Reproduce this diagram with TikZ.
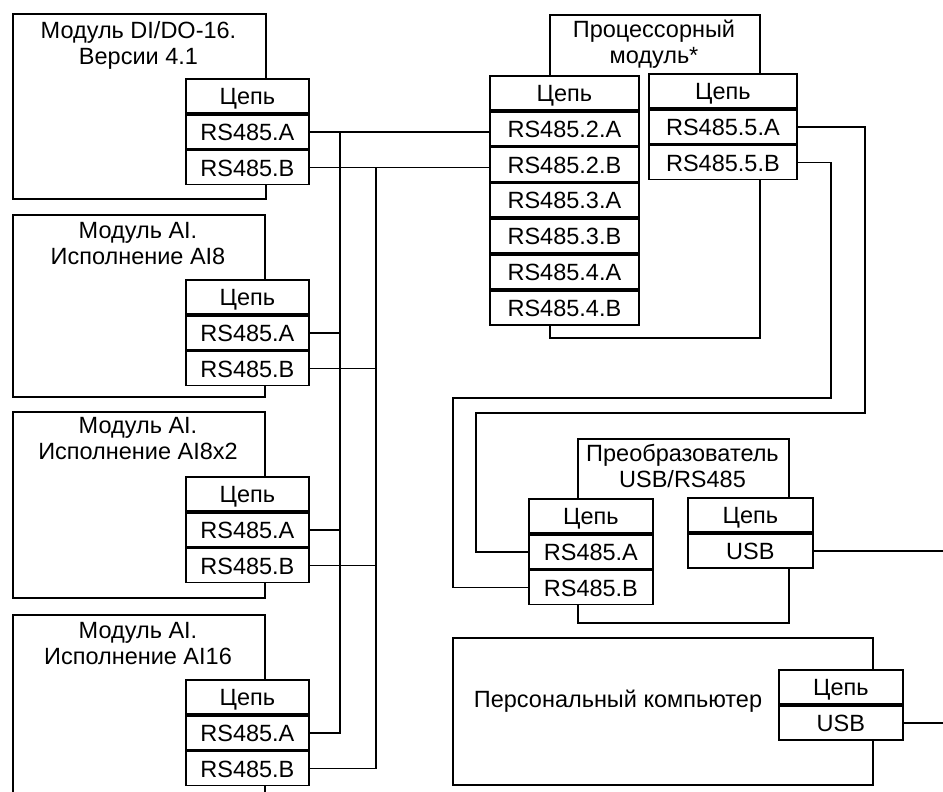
\documentclass[tikz,border=0pt]{standalone}
\usepackage{fontspec}
\setmainfont{Liberation Sans}
\newcommand\lbl{\fontsize{23.5}{26}\selectfont}
\tikzset{
  wire/.style={line width=1.8pt},
  frame/.style={draw, line width=1.8pt, inner sep=0pt, anchor=north west},
  cell/.style={draw, fill=white, line width=1.8pt, inner sep=0pt, anchor=north west,
    minimum height=34pt, text height=17pt, text depth=0pt, font=\lbl},
  cellL/.style={cell, minimum width=123pt},
  cellP/.style={cell, minimum width=149pt},
  title/.style={align=center, inner sep=0pt, font=\lbl, anchor=north},
}
\begin{document}
\begin{tikzpicture}[x=1pt,y=-1pt]
\fill[white] (0,0) rectangle (943,792);
\clip (0,0) rectangle (943,792);
% ---------------- left modules ----------------
\node[frame, minimum width=253pt, minimum height=185pt] (m1) at (12,13) {};
\node[title] (m1t) at (138.5,21) {Модуль DI/DO-16.\\Версии 4.1};
\node[cellL] (m1h) at (185,78) {Цепь};
\node[cellL, anchor=north] (m1a) at (m1h.south) {RS485.A};
\node[cellL, anchor=north] (m1b) at (m1a.south) {RS485.B};

\node[frame, minimum width=252pt, minimum height=182pt] (m2) at (12,214) {};
\node[title] (m2t) at (138,222) {Модуль AI.\\Исполнение AI8};
\node[cellL] (m2h) at (185,279) {Цепь};
\node[cellL, anchor=north] (m2a) at (m2h.south) {RS485.A};
\node[cellL, anchor=north] (m2b) at (m2a.south) {RS485.B};

\node[frame, minimum width=252pt, minimum height=186pt] (m3) at (12,411) {};
\node[title] (m3t) at (138,417) {Модуль AI.\\Исполнение AI8x2};
\node[cellL] (m3h) at (185,476) {Цепь};
\node[cellL, anchor=north] (m3a) at (m3h.south) {RS485.A};
\node[cellL, anchor=north] (m3b) at (m3a.south) {RS485.B};

\node[frame, minimum width=252pt, minimum height=220pt] (m4) at (12,614) {};
\node[title] (m4t) at (138,622) {Модуль AI.\\Исполнение AI16};
\node[cellL] (m4h) at (185,679) {Цепь};
\node[cellL, anchor=north] (m4a) at (m4h.south) {RS485.A};
\node[cellL, anchor=north] (m4b) at (m4a.south) {RS485.B};

% ---------------- processor module ----------------
\node[frame, minimum width=210pt, minimum height=323pt] (p) at (549,14) {};
\node[title] (pt) at (654,20) {Процессорный\\модуль*};
\node[cellP] (ph) at (489,75) {Цепь};
\node[cellP, anchor=north] (p2a) at (ph.south) {RS485.2.A};
\node[cellP, anchor=north] (p2b) at (p2a.south) {RS485.2.B};
\node[cellP, anchor=north] (p3a) at (p2b.south) {RS485.3.A};
\node[cellP, anchor=north] (p3b) at (p3a.south) {RS485.3.B};
\node[cellP, anchor=north] (p4a) at (p3b.south) {RS485.4.A};
\node[cellP, anchor=north] (p4b) at (p4a.south) {RS485.4.B};
\node[cell, minimum width=148pt] (qh) at (648,73) {Цепь};
\node[cell, minimum width=148pt, anchor=north] (p5a) at (qh.south) {RS485.5.A};
\node[cell, minimum width=148pt, anchor=north] (p5b) at (p5a.south) {RS485.5.B};

% ---------------- converter ----------------
\node[frame, minimum width=211pt, minimum height=184pt] (c) at (577,438) {};
\node[title] (ct) at (682.5,444) {Преобразователь\\USB/RS485};
\node[cell, minimum width=124pt] (ch) at (528,498) {Цепь};
\node[cell, minimum width=124pt, anchor=north] (ca) at (ch.south) {RS485.A};
\node[cell, minimum width=124pt, anchor=north] (cb) at (ca.south) {RS485.B};
\node[cell, minimum width=125pt] (uh) at (687,497) {Цепь};
\node[cell, minimum width=125pt, anchor=north] (cusb) at (uh.south) {USB};

% ---------------- PC ----------------
\node[frame, minimum width=420pt, minimum height=147pt] (pc) at (452,637) {};
\node[inner sep=0pt, font=\lbl, anchor=base] (pct) at (618,707) {Персональный компьютер};
\node[cell, minimum width=124pt] (kh) at (778,669) {Цепь};
\node[cell, minimum width=124pt, anchor=north] (kusb) at (kh.south) {USB};

% ---------------- wiring ----------------
\coordinate (busA) at (340,0);
\coordinate (busB) at (376,0);
\coordinate (E) at (943,0);
\draw[wire] (m1a.east) -- (m1a.east -| p2a.west);
\draw[wire] (m1b.east) -- (m1b.east -| p2b.west);
\draw[wire] (m1a.east -| busA) |- (m4a.east);
\draw[wire] (m1b.east -| busB) |- (m4b.east);
\draw[wire] (m2a.east) -- (m2a.east -| busA);
\draw[wire] (m2b.east) -- (m2b.east -| busB);
\draw[wire] (m3a.east) -- (m3a.east -| busA);
\draw[wire] (m3b.east) -- (m3b.east -| busB);

\coordinate (ra) at (865,413);
\coordinate (la) at (476,413);
\coordinate (rb) at (831,398);
\coordinate (lb) at (453,398);
\draw[wire] (p5a.east) -| (ra) -- (la) |- (ca.west);
\draw[wire] (p5b.east) -| (rb) -- (lb) |- (cb.west);

\draw[wire] (cusb.east) -- (cusb.east -| E);
\draw[wire] (kusb.east) -- (kusb.east -| E);
\end{tikzpicture}
\end{document}
